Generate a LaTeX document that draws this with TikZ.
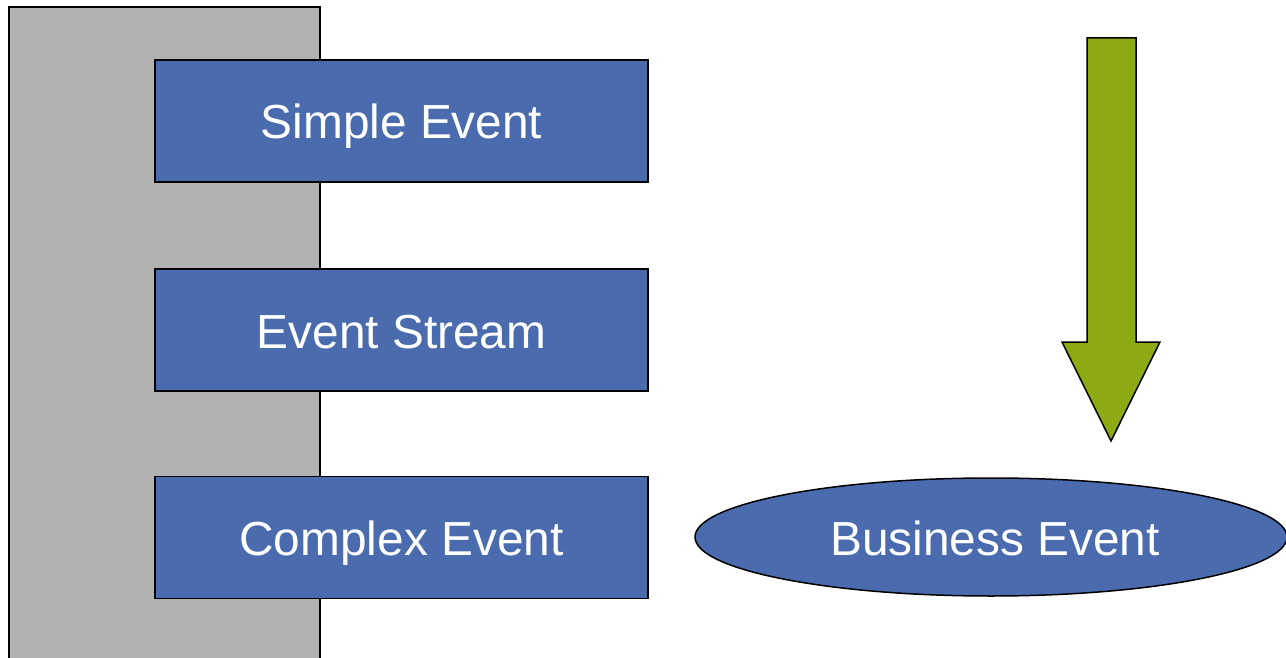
\documentclass[tikz,border=0pt]{standalone}
\usepackage{fontspec}
\setmainfont{Liberation Sans}
\usetikzlibrary{shapes.geometric}
\definecolor{boxblue}{RGB}{74,108,175}
\definecolor{arrowgreen}{RGB}{140,170,20}
\definecolor{panelgray}{RGB}{178,178,178}
\begin{document}
\begin{tikzpicture}[x=1pt,y=-1pt,
  eventbox/.style={draw=black, line width=1.5pt, fill=boxblue, text=white,
    minimum width=493pt, minimum height=122pt, inner sep=0pt,
    text height=36pt, text depth=0pt,
    font=\fontsize{47.8}{56}\selectfont},
  eventoval/.style={ellipse, draw=black, line width=1.5pt, fill=boxblue, text=white,
    minimum width=592pt, minimum height=118pt, inner sep=0pt,
    text height=36pt, text depth=0pt,
    font=\fontsize{47.8}{56}\selectfont}]
\useasboundingbox (0,0) rectangle (1286,658);
\fill[white] (0,0) rectangle (1286,658);
\draw[line width=1.5pt, fill=panelgray] (9,7) rectangle (320,700);
\node[eventbox] (simple) at (401.5,121) {Simple Event};
\node[eventbox] (stream) at (401.5,330) {Event Stream};
\node[eventbox] (complex) at (401.5,537.5) {Complex Event};
\node[eventoval] (business) at (991,537) {\hspace{8pt}Business Event};
\draw[line width=1.5pt, fill=arrowgreen, line join=miter]
  (1087,38) -- (1136,38) -- (1136,342) -- (1160,342) -- (1111,441)
  -- (1062,342) -- (1087,342) -- cycle;
\end{tikzpicture}
\end{document}
